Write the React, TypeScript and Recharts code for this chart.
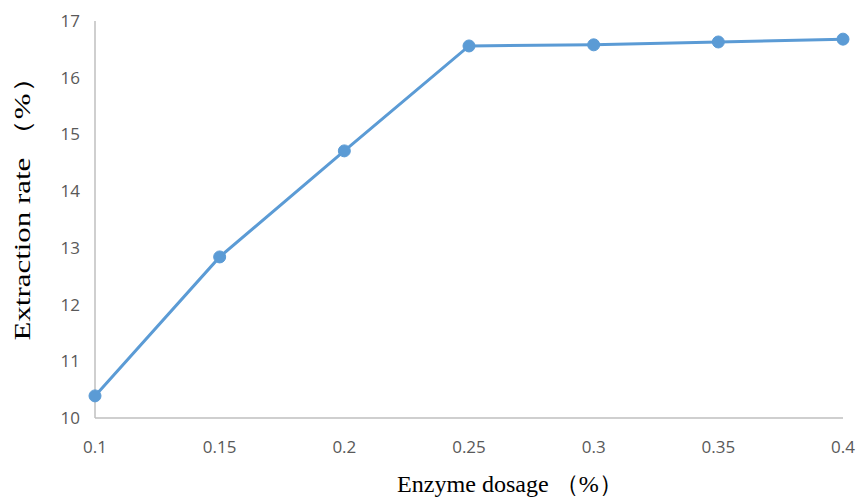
import { LineChart, Line, XAxis, YAxis, Label } from 'recharts'

const dosages = [0.1, 0.15, 0.2, 0.25, 0.3, 0.35, 0.4]
const extractionRates = [10.39, 12.84, 14.71, 16.56, 16.58, 16.63, 16.68]
const yTicks = [10, 11, 12, 13, 14, 15, 16, 17]

const data = dosages.map((d, i) => ({ dosage: d, rate: extractionRates[i] }))

const tickStyle = { fill: '#595959', fontSize: 17, fontFamily: '"Open Sans", "Noto Sans", sans-serif' }
const titleFont = '"Liberation Serif", "Times New Roman", serif'

export default function App() {
  return (
    <div style={{ position: 'absolute', left: 0, top: 0, background: '#fff' }}>
      <LineChart width={860} height={497} data={data} margin={{ top: 21, right: 17, bottom: 49, left: 0 }}>
        <XAxis
          dataKey="dosage"
          type="number"
          domain={[0.1, 0.4]}
          ticks={dosages}
          tickFormatter={(v: number) => String(v)}
          axisLine={{ stroke: '#BFBFBF', strokeWidth: 1.5 }}
          tickLine={false}
          tickMargin={17}
          tick={tickStyle}
        >
          <Label
            content={({ viewBox }: any) => (
              <text
                x={viewBox.x + viewBox.width / 2 + 41}
                y={viewBox.y + 74}
                textAnchor="middle"
                fontFamily={titleFont}
                fontSize={24}
                textLength={226}
                lengthAdjust="spacingAndGlyphs"
                fill="#000"
              >
                Enzyme dosage （%）
              </text>
            )}
          />
        </XAxis>
        <YAxis
          type="number"
          domain={[10, 17]}
          ticks={yTicks}
          width={95}
          axisLine={{ stroke: '#BFBFBF', strokeWidth: 1.5 }}
          tickLine={false}
          tickMargin={9}
          tick={tickStyle}
        >
          <Label
            content={({ viewBox }: any) => {
              const cx = 22
              const cy = viewBox.y + viewBox.height / 2 - 18
              return (
                <text
                  x={cx}
                  y={cy}
                  transform={`rotate(-90, ${cx}, ${cy})`}
                  textAnchor="middle"
                  dominantBaseline="central"
                  fontFamily={titleFont}
                  fontSize={23}
                  textLength={278}
                  lengthAdjust="spacingAndGlyphs"
                  fill="#000"
                >
                  Extraction rate （%）
                </text>
              )
            }}
          />
        </YAxis>
        <Line
          type="linear"
          dataKey="rate"
          stroke="#5B9BD5"
          strokeWidth={3}
          dot={{ r: 6, fill: '#5B9BD5', stroke: '#5B9BD5', strokeWidth: 1 }}
          isAnimationActive={false}
        />
      </LineChart>
    </div>
  )
}
